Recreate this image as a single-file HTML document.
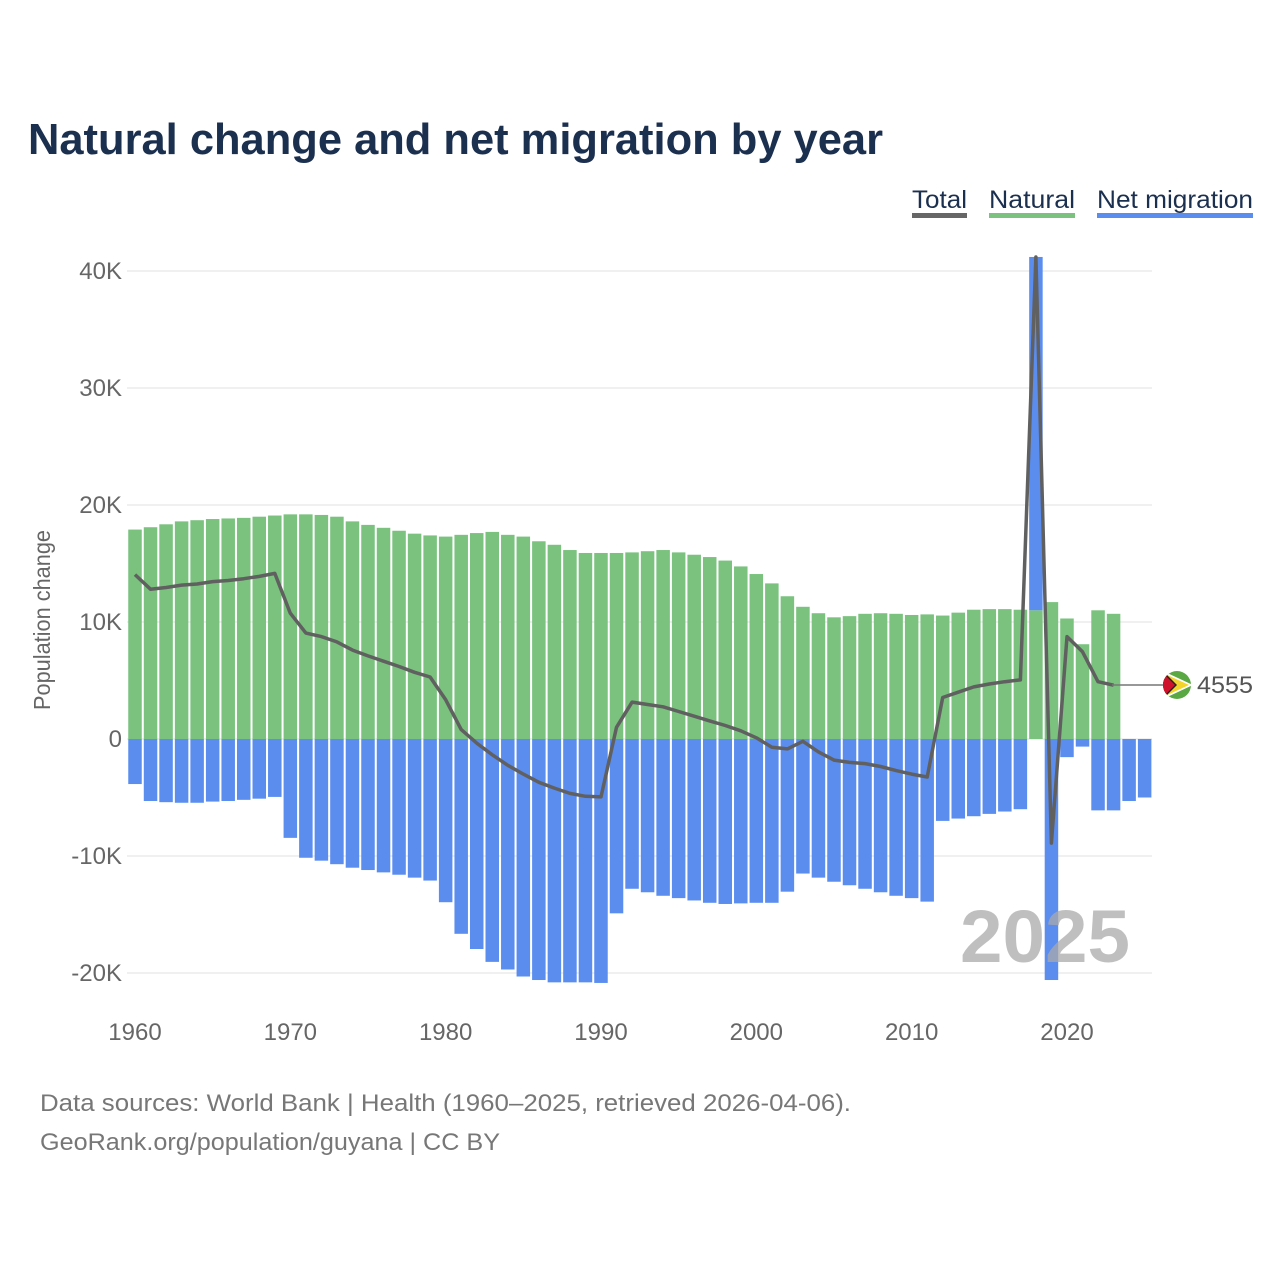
<!DOCTYPE html>
<html><head><meta charset="utf-8"><style>
html,body{margin:0;padding:0;background:#fff;}
svg{display:block;font-family:"Liberation Sans",sans-serif;}
</style></head><body>
<svg id="chart" width="1280" height="1280" viewBox="0 0 1280 1280">
<text x="28" y="154" font-size="44" font-weight="bold" fill="#1b2f4f" textLength="855" lengthAdjust="spacingAndGlyphs">Natural change and net migration by year</text>
<g>
<g><text x="912" y="208" font-size="25" fill="#1b2f4f" textLength="55" lengthAdjust="spacingAndGlyphs">Total</text><rect x="912" y="213" width="55" height="5" fill="#666"/></g>
<g><text x="989" y="208" font-size="25" fill="#1b2f4f" textLength="86" lengthAdjust="spacingAndGlyphs">Natural</text><rect x="989" y="213" width="86" height="5" fill="#7ac27e"/></g>
<g><text x="1097" y="208" font-size="25" fill="#1b2f4f" textLength="156" lengthAdjust="spacingAndGlyphs">Net migration</text><rect x="1097" y="213" width="156" height="5" fill="#5b8def"/></g>
</g>
<text transform="translate(50,620) rotate(-90)" text-anchor="middle" font-size="23" fill="#666" textLength="180" lengthAdjust="spacingAndGlyphs">Population change</text>
<g id="grid"></g><g id="bars"></g><g id="line"></g><g id="axes"></g>
<text x="1045" y="962" text-anchor="middle" font-size="74" font-weight="bold" fill="#aaa" fill-opacity="0.75" textLength="170" lengthAdjust="spacingAndGlyphs">2025</text>
<g>
<line x1="1112" y1="685" x2="1163" y2="685" stroke="#777" stroke-width="1.5"/>
<g>
<clipPath id="fc"><circle cx="1177" cy="685" r="14"/></clipPath>
<g clip-path="url(#fc)"><rect x="1163" y="671" width="28" height="28" fill="#5aa844"/>
<polygon points="1163,671 1193,685 1163,699" fill="#fff"/><polygon points="1163,673 1189,685 1163,697" fill="#f3d42a"/>
<polygon points="1163,671 1177,685 1163,699" fill="#222"/><polygon points="1163,673 1175,685 1163,697" fill="#d0112b"/></g></g>
<text x="1197" y="693" font-size="24" fill="#555" textLength="56" lengthAdjust="spacingAndGlyphs">4555</text>
</g>
<text x="40" y="1111" font-size="24" fill="#777" textLength="811" lengthAdjust="spacingAndGlyphs">Data sources: World Bank | Health (1960–2025, retrieved 2026-04-06).</text>
<text x="40" y="1150" font-size="24" fill="#777" textLength="460" lengthAdjust="spacingAndGlyphs">GeoRank.org/population/guyana | CC BY</text>
</svg>
<script>
const years = [];
for (let y = 1960; y <= 2025; y++) years.push(y);
const natural = [17.9,18.1,18.35,18.6,18.7,18.8,18.85,18.9,19.0,19.1,19.2,19.2,19.15,19.0,18.6,18.3,18.05,17.8,17.55,17.4,17.3,17.45,17.6,17.7,17.45,17.3,16.9,16.6,16.15,15.9,15.9,15.9,15.95,16.05,16.15,15.95,15.75,15.55,15.25,14.75,14.1,13.3,12.2,11.3,10.75,10.4,10.5,10.7,10.75,10.7,10.6,10.65,10.55,10.8,11.05,11.1,11.1,11.05,11.0,11.7,10.3,8.1,11.0,10.7,null,null];
const migration = [-3.85,-5.3,-5.4,-5.45,-5.45,-5.35,-5.3,-5.2,-5.1,-4.95,-8.45,-10.15,-10.4,-10.7,-11.0,-11.2,-11.4,-11.6,-11.85,-12.1,-13.95,-16.65,-17.95,-19.05,-19.7,-20.3,-20.6,-20.8,-20.8,-20.8,-20.85,-14.9,-12.8,-13.1,-13.4,-13.6,-13.8,-14.0,-14.1,-14.05,-14.0,-14.0,-13.05,-11.5,-11.85,-12.2,-12.5,-12.8,-13.1,-13.4,-13.6,-13.9,-7.0,-6.8,-6.6,-6.4,-6.2,-6.0,30.2,-20.6,-1.55,-0.65,-6.1,-6.1,-5.3,-5.0];
const yTicks = [-20,-10,0,10,20,30,40];
const yTickLabels = ["-20K","-10K","0","10K","20K","30K","40K"];
const xTicks = [1960,1970,1980,1990,2000,2010,2020];

const NS = "http://www.w3.org/2000/svg";
const xs = v => 135 + (v - 1960) * 15.533;
const ys = v => 739 - v * 11.7;
function mk(tag, attrs, parent) {
  const e = document.createElementNS(NS, tag);
  for (const k in attrs) e.setAttribute(k, attrs[k]);
  parent.appendChild(e); return e;
}
const grid = document.getElementById('grid'), bars = document.getElementById('bars'),
      lineG = document.getElementById('line'), axes = document.getElementById('axes');
yTicks.forEach((t, i) => {
  const g = mk('line', {x1:127, x2:1152, y1:ys(t), y2:ys(t), stroke:'#ebebeb', 'stroke-width':1.5}, grid);
  
  
  const l = mk('text', {x:122, y:ys(t)+8, 'text-anchor':'end', 'font-size':24, fill:'#666'}, axes);
  l.textContent = yTickLabels[i];
  
  
});
xTicks.forEach(t => {
  const l = mk('text', {x:xs(t), y:1040, 'text-anchor':'middle', 'font-size':24, fill:'#666'}, axes);
  l.textContent = t;
  
  
});
const bw = 13.5;
years.forEach((yr, i) => {
  const n = natural[i], m = migration[i];
  let base = 0;
  if (n != null) {
    const r = mk('rect', {x:xs(yr)-bw/2, y:ys(n), width:bw, height:ys(0)-ys(n), fill:'#7ac27e'}, bars);
    
    
    base = n;
  }
  if (m != null) {
    let y0, y1;
    if (m >= 0) { y0 = ys(base + m); y1 = ys(base); } else { y0 = ys(0); y1 = ys(m); }
    const r = mk('rect', {x:xs(yr)-bw/2, y:y0, width:bw, height:y1-y0, fill:'#5b8def'}, bars);
    
    
  }
});
const pts = [];
years.forEach((yr, i) => {
  if (natural[i] != null && migration[i] != null) pts.push(xs(yr).toFixed(1) + ',' + ys(natural[i] + migration[i]).toFixed(1));
});
const pl = mk('polyline', {points:pts.join(' '), fill:'none', stroke:'#606060', 'stroke-width':3.5, 'stroke-linejoin':'round'}, lineG);


</script>
</body></html>
